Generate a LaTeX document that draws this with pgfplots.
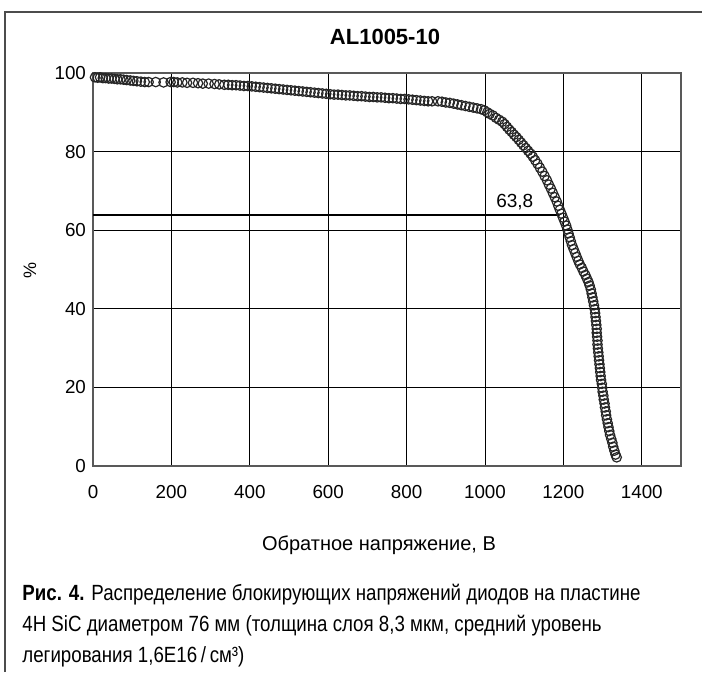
\documentclass[border=0pt]{standalone}
\usepackage{fontspec}
\setmainfont{Liberation Sans}
\newfontfamily\capfont[FakeStretch=0.85]{Liberation Sans}
\usepackage{pgfplots}
\pgfplotsset{compat=1.18}

\pgfplotstableread{
x y
5 98.9
12 98.8
18 98.9
25 98.7
32 98.7
40 98.6
47 98.6
55 98.5
62 98.4
70 98.4
78 98.3
86 98.2
95 98.1
103 98.0
112 97.9
122 97.8
132 97.7
142 97.7
160 97.7
180 97.6
198 97.7
206 97.7
215 97.6
228 97.6
240 97.5
255 97.5
268 97.4
280 97.3
295 97.3
310 97.2
322 97.1
335 97.0
345 97.0
355 96.9
365 96.9
375 96.8
385 96.7
395 96.7
405 96.6
415 96.5
425 96.4
435 96.3
445 96.2
455 96.1
465 96.0
475 95.9
485 95.8
495 95.7
505 95.6
515 95.5
525 95.4
535 95.3
545 95.2
555 95.1
565 95.0
575 94.9
585 94.8
595 94.7
605 94.6
615 94.5
625 94.5
635 94.4
645 94.3
655 94.3
665 94.2
675 94.1
685 94.1
695 94.0
705 93.9
715 93.9
725 93.8
735 93.8
745 93.7
755 93.6
765 93.6
775 93.5
785 93.4
795 93.4
805 93.3
815 93.2
825 93.1
835 93.0
845 92.9
855 92.8
865 92.8
880 92.8
890 92.7
900 92.5
910 92.4
920 92.2
930 92.0
940 91.8
950 91.6
960 91.4
970 91.2
980 91.0
990 90.8
998 90.5
1006 90.0
1012 89.6
1020 89.2
1028 88.6
1036 88.1
1044 87.6
1050 87.0
1056 86.3
1062 85.6
1068 85.0
1074 84.3
1080 83.7
1086 83.0
1092 82.3
1098 81.6
1104 80.9
1110 80.2
1116 79.5
1122 78.7
1128 77.8
1134 76.9
1140 75.9
1146 74.9
1152 73.8
1158 72.7
1163 71.6
1168 70.6
1173 69.5
1178 68.4
1183 67.3
1187 66.2
1191 65.2
1195 64.2
1199 63.2
1203 62.2
1207 61.2
1210 60.2
1213 59.2
1216 58.2
1219 57.2
1222 56.2
1226 55.2
1230 54.2
1234 53.2
1238 52.2
1242 51.3
1247 50.4
1251 49.5
1256 48.6
1260 47.7
1264 46.8
1267 45.9
1270 44.9
1272 43.9
1274 42.9
1276 41.9
1278 40.9
1280 39.9
1281 38.9
1282 37.9
1283 36.9
1284 35.9
1285 34.9
1285 33.9
1286 32.9
1287 31.9
1287 30.9
1288 29.9
1289 28.9
1290 27.9
1291 26.9
1292 25.9
1293 24.9
1294 23.9
1295 22.9
1296 21.9
1298 20.9
1299 19.9
1300 18.9
1302 17.9
1303 16.9
1305 15.9
1306 14.9
1308 13.9
1309 12.9
1311 11.9
1313 10.9
1315 9.9
1317 8.9
1319 7.9
1322 6.9
1325 5.9
1327 4.9
1330 3.9
1333 2.9
1336 2.2
}\diodes

\begin{document}
\begin{tikzpicture}[x=1pt,y=1pt]
% page and frame, 1pt = 2px of the reference, origin at the lower left of the plot
\path[use as bounding box] (-46.5,-105.5) rectangle (304.5,233);
\draw[black!70, line width=0.8pt] (-44,-103) -- (-44,227) -- (304.5,227);

\begin{axis}[
	at={(0,0)}, anchor=south west,
	scale only axis, width=294pt, height=196.5pt,
	xmin=0, xmax=1500, ymin=0, ymax=100,
	xtick={0,200,...,1400}, ytick={0,20,...,100},
	grid=major, grid style={black, line width=0.5pt},
	axis line style={black!65, line width=0.9pt},
	major tick length=0pt,
	ticklabel style={font=\fontsize{9.4}{11}\selectfont},
	xticklabel style={yshift=-6pt},
	/pgf/number format/assume math mode=true,
	/pgf/number format/1000 sep={},
	clip=false,
]
\addplot[black, line width=0.8pt] coordinates {(0,63.8) (1190,63.8)};
\addplot[only marks, mark=o, mark size=2.35pt,
	mark options={draw=black!85, line width=0.6pt}] table[x=x, y=y] {\diodes};
\node[font=\fontsize{9.5}{11}\selectfont] at (axis cs:1076,67.2) {63,8};
\end{axis}

\node[font=\bfseries\fontsize{11}{13}\selectfont] at (146,214.5) {AL1005-10};
\node[font=\fontsize{10}{12}\selectfont] at (143,-39.5) {Обратное напряжение, В};
\node[font=\fontsize{9}{11}\selectfont, rotate=90] at (-31.5,98) {\%};

\node[anchor=base west, inner sep=0pt, font=\capfont\fontsize{11}{13}\selectfont] at (-35.5,-67)
	{\textbf{Рис. 4.} Распределение блокирующих напряжений диодов на пластине};
\node[anchor=base west, inner sep=0pt, font=\capfont\fontsize{11}{13}\selectfont] at (-35.5,-82.5)
	{4H SiC диаметром 76 мм (толщина слоя 8,3 мкм, средний уровень};
\node[anchor=base west, inner sep=0pt, font=\capfont\fontsize{11}{13}\selectfont] at (-35.5,-98)
	{легирования 1,6E16\,/\,см³)};
\end{tikzpicture}
\end{document}
